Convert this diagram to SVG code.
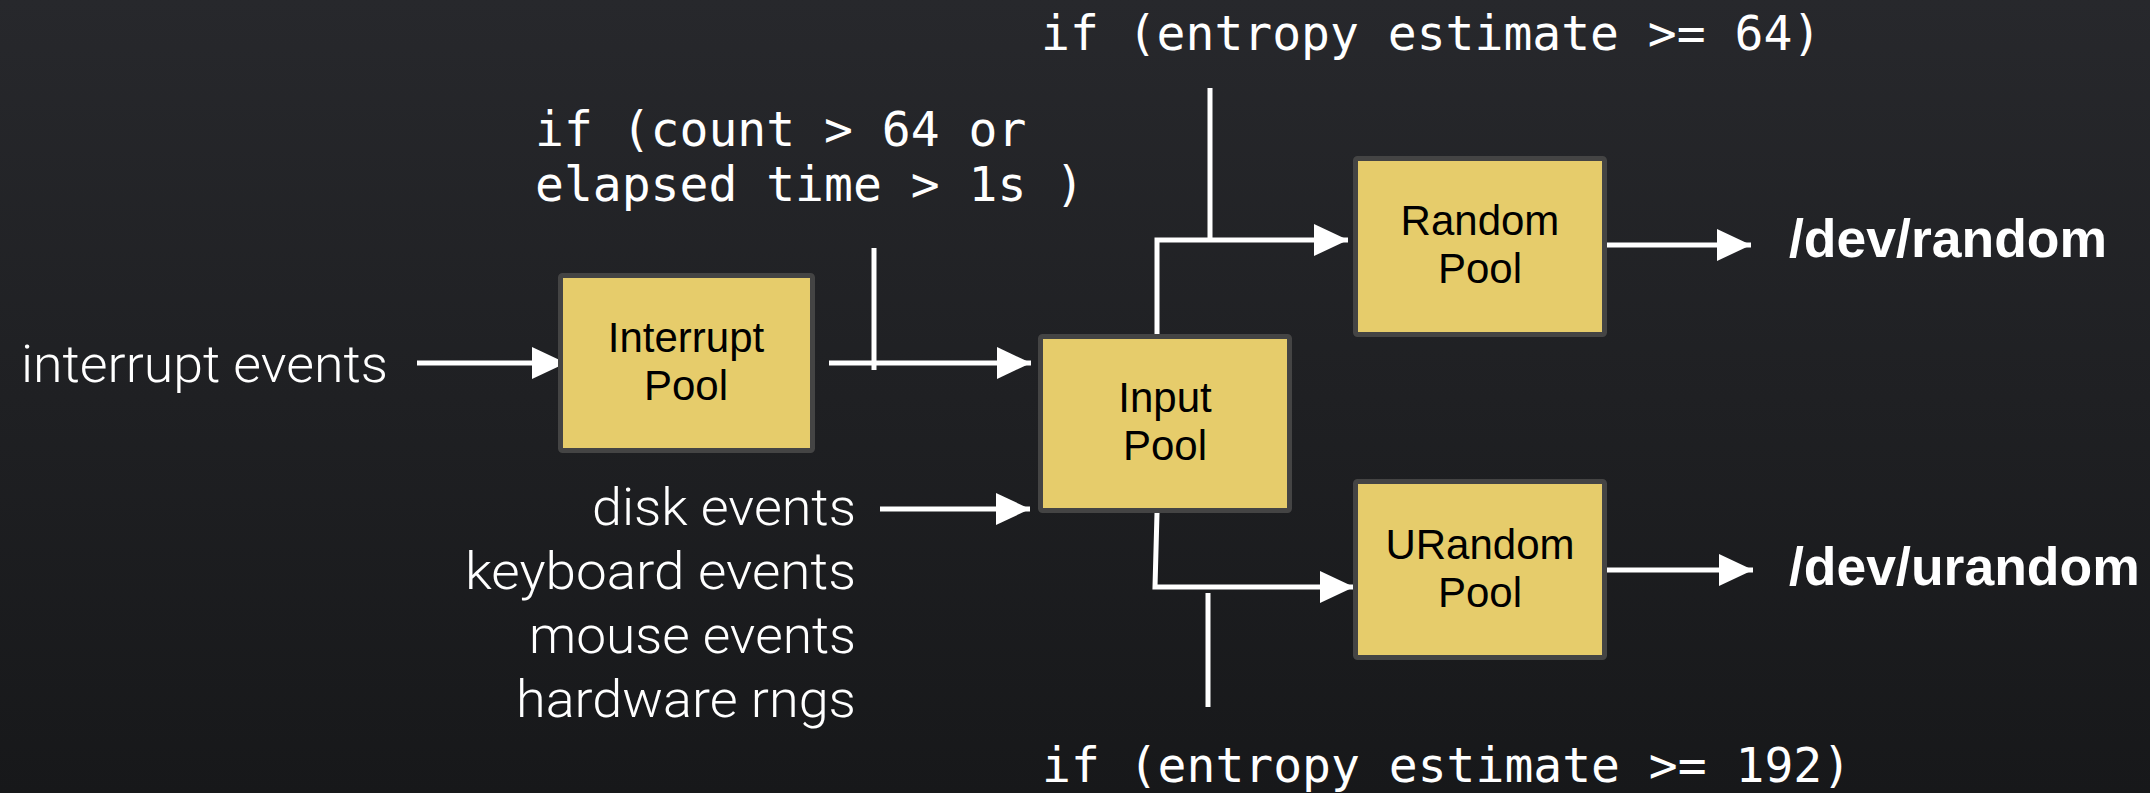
<svg xmlns="http://www.w3.org/2000/svg" width="2150" height="793" viewBox="0 0 2150 793">
  <defs>
    <linearGradient id="bg" x1="0" y1="0" x2="0" y2="1">
      <stop offset="0" stop-color="#27282c"/>
      <stop offset="1" stop-color="#17181a"/>
    </linearGradient>
    <marker id="arrow" viewBox="0 0 34 32" markerWidth="34" markerHeight="32" refX="34" refY="16" markerUnits="userSpaceOnUse" orient="auto">
      <path d="M0,0 L34,16 L0,32 Z" fill="#ffffff"/>
    </marker>
    <style>
      .pool { fill: #e6cc6b; stroke: #444444; stroke-width: 5; }
      .pool-label { font-family: "Liberation Sans", Arial, sans-serif; font-size: 42px; fill: #000000; text-anchor: middle; }
      .source { font-family: Roboto, "Liberation Sans", sans-serif; font-weight: 300; font-size: 52px; fill: #ffffff; }
      .cond { font-family: "DejaVu Sans Mono", "Liberation Mono", monospace; font-size: 48px; fill: #ffffff; }
      .device { font-family: "Liberation Sans", Arial, sans-serif; font-weight: bold; font-size: 53.5px; fill: #ffffff; }
      .wire { fill: none; stroke: #ffffff; stroke-width: 5; }
      .flow { marker-end: url(#arrow); }
    </style>
  </defs>

  <rect width="2150" height="793" fill="url(#bg)"/>

  <!-- connectors -->
  <g id="connectors">
    <path class="wire flow" d="M417,363 H566"/>
    <path class="wire flow" d="M829,363 H1031"/>
    <path class="wire" d="M874,248 V370"/>
    <path class="wire flow" d="M880,509 H1030"/>
    <path class="wire flow" d="M1157,334 V240 H1348"/>
    <path class="wire" d="M1210,88 V240"/>
    <path class="wire flow" d="M1157,513 L1155,587 H1354"/>
    <path class="wire" d="M1208,593 V707"/>
    <path class="wire flow" d="M1607,245 H1751"/>
    <path class="wire flow" d="M1607,570 H1753"/>
  </g>

  <!-- pools -->
  <g id="interrupt-pool">
    <rect class="pool" x="560.5" y="275.5" width="252" height="175" rx="2"/>
    <text class="pool-label" x="686" y="352">Interrupt</text>
    <text class="pool-label" x="686" y="400">Pool</text>
  </g>
  <g id="input-pool">
    <rect class="pool" x="1040.5" y="336.5" width="249" height="174" rx="2"/>
    <text class="pool-label" x="1165" y="412">Input</text>
    <text class="pool-label" x="1165" y="460">Pool</text>
  </g>
  <g id="random-pool">
    <rect class="pool" x="1355.5" y="158.5" width="249" height="176" rx="2"/>
    <text class="pool-label" x="1480" y="235">Random</text>
    <text class="pool-label" x="1480" y="283">Pool</text>
  </g>
  <g id="urandom-pool">
    <rect class="pool" x="1355.5" y="481.5" width="249" height="176" rx="2"/>
    <text class="pool-label" x="1480" y="559">URandom</text>
    <text class="pool-label" x="1480" y="607">Pool</text>
  </g>

  <!-- entropy sources -->
  <g id="interrupt-events">
    <text class="source" x="21" y="382" textLength="367" lengthAdjust="spacingAndGlyphs">interrupt events</text>
  </g>
  <g id="device-events" text-anchor="end">
    <text class="source" x="856" y="525" textLength="264" lengthAdjust="spacingAndGlyphs">disk events</text>
    <text class="source" x="856" y="589" textLength="391" lengthAdjust="spacingAndGlyphs">keyboard events</text>
    <text class="source" x="856" y="653" textLength="327" lengthAdjust="spacingAndGlyphs">mouse events</text>
    <text class="source" x="856" y="717" textLength="340" lengthAdjust="spacingAndGlyphs">hardware rngs</text>
  </g>

  <!-- transfer conditions -->
  <g id="cond-interrupt">
    <text class="cond" x="535" y="146">if (count &gt; 64 or</text>
    <text class="cond" x="535" y="201">elapsed time &gt; 1s )</text>
  </g>
  <g id="cond-random">
    <text class="cond" x="1041" y="50">if (entropy estimate &gt;= 64)</text>
  </g>
  <g id="cond-urandom">
    <text class="cond" x="1042" y="782">if (entropy estimate &gt;= 192)</text>
  </g>

  <!-- output devices -->
  <g id="dev-random">
    <text class="device" x="1789" y="257">/dev/random</text>
  </g>
  <g id="dev-urandom">
    <text class="device" x="1789" y="585">/dev/urandom</text>
  </g>
</svg>
